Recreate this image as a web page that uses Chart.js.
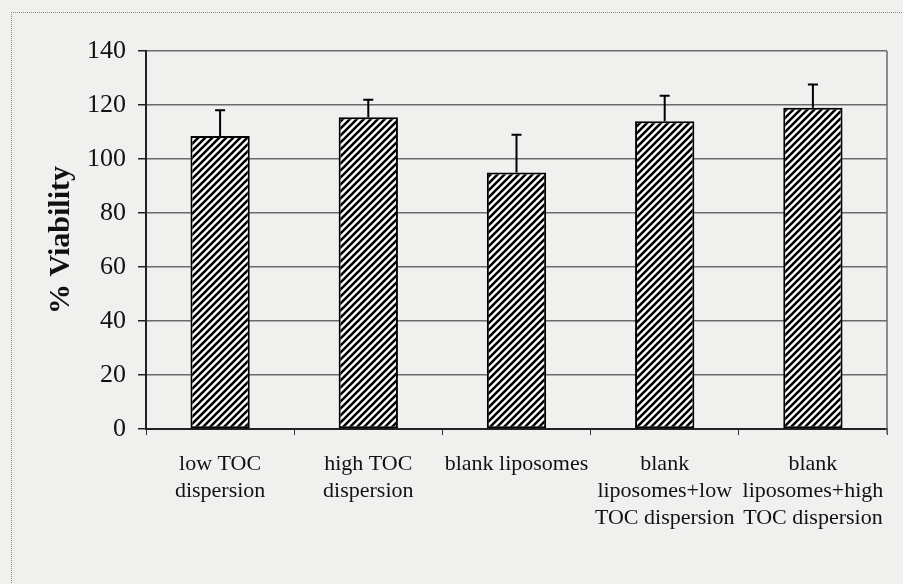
<!DOCTYPE html>
<html>
<head>
<meta charset="utf-8">
<script src="https://cdn.jsdelivr.net/npm/chart.js@4.4.0/dist/chart.umd.min.js"></script>
<style>
  html, body { margin: 0; padding: 0; background: #f0f0ef; }
  #wrap { position: relative; width: 903px; height: 584px; overflow: hidden; }
  #frame { position: absolute; left: 11px; top: 12px; width: 920px; height: 600px;
           border-top: 1px dotted #8a8a8a; border-left: 1px dotted #8a8a8a; }
  canvas { position: absolute; left: 0; top: 0; }
</style>
</head>
<body>
<div id="wrap">
  <div id="frame"></div>
  <canvas id="chart" width="903" height="584"></canvas>
</div>
<script>
const categories = [
    ['low TOC', 'dispersion'],
    ['high TOC', 'dispersion'],
    'blank liposomes',
    ['blank', 'liposomes+low', 'TOC dispersion'],
    ['blank', 'liposomes+high', 'TOC dispersion']
];
const viability = [108.5, 115.5, 95, 114, 119];
const errorUp = [9.6, 6.4, 14, 9.4, 8.6];
const yTicks = [0, 20, 40, 60, 80, 100, 120, 140];

// diagonal hatch fill
function makeHatch() {
    const c = document.createElement('canvas');
    c.width = 7;
    c.height = 7;
    const g = c.getContext('2d');
    g.fillStyle = '#ffffff';
    g.fillRect(0, 0, 7, 7);
    g.strokeStyle = '#000000';
    g.lineWidth = 2.6;
    g.beginPath();
    g.moveTo(-1, 8); g.lineTo(8, -1);
    g.moveTo(-2, 2); g.lineTo(2, -2);
    g.moveTo(5, 9); g.lineTo(9, 5);
    g.stroke();
    return g.createPattern(c, 'repeat');
}

const errorBars = {
    id: 'errorBars',
    afterDatasetsDraw(chart) {
        const ctx = chart.ctx;
        const yScale = chart.scales.y;
        const meta = chart.getDatasetMeta(0);
        ctx.save();
        ctx.strokeStyle = '#000';
        ctx.lineWidth = 2;
        meta.data.forEach((bar, i) => {
            const top = yScale.getPixelForValue(viability[i] + errorUp[i]);
            ctx.beginPath();
            ctx.moveTo(bar.x, bar.y);
            ctx.lineTo(bar.x, top);
            ctx.moveTo(bar.x - 5, top);
            ctx.lineTo(bar.x + 5, top);
            ctx.stroke();
        });
        ctx.restore();
    }
};

const plotFrame = {
    id: 'plotFrame',
    beforeDatasetsDraw(chart) {
        const a = chart.chartArea;
        const ctx = chart.ctx;
        ctx.save();
        ctx.strokeStyle = '#6a6a6a';
        ctx.lineWidth = 1.5;
        ctx.beginPath();
        ctx.moveTo(a.right, a.top);
        ctx.lineTo(a.right, a.bottom + 5);
        ctx.stroke();
        ctx.restore();
    }
};

new Chart(document.getElementById('chart').getContext('2d'), {
    type: 'bar',
    data: {
        labels: categories,
        datasets: [{
            data: viability,
            backgroundColor: makeHatch(),
            borderColor: '#000',
            borderWidth: 2,
            borderSkipped: false,
            categoryPercentage: 1,
            barPercentage: 0.4
        }]
    },
    options: {
        responsive: false,
        animation: false,
        layout: { padding: { left: 30, right: 16, top: 51, bottom: 0 } },
        plugins: {
            legend: { display: false },
            tooltip: { enabled: false }
        },
        scales: {
            x: {
                grid: {
                    drawOnChartArea: false,
                    drawTicks: true,
                    tickLength: 6,
                    tickColor: '#333'
                },
                border: { color: '#222', width: 2 },
                ticks: {
                    color: '#111',
                    padding: 16,
                    maxRotation: 0,
                    autoSkip: false,
                    font: { family: 'Liberation Serif', size: 22, lineHeight: 1.22 }
                },
                afterFit(scale) { scale.height = 584 - 429; }
            },
            y: {
                min: 0,
                max: 140,
                afterBuildTicks(scale) { scale.ticks = yTicks.map(v => ({ value: v })); },
                grid: {
                    color: '#6a6a6a',
                    lineWidth: 1.5,
                    tickLength: 8,
                    tickColor: '#222'
                },
                border: { color: '#222', width: 2 },
                ticks: {
                    color: '#111',
                    padding: 12,
                    font: { family: 'Liberation Serif', size: 26 }
                },
                title: {
                    display: true,
                    text: '% Viability',
                    color: '#111',
                    padding: { top: 13, bottom: 0 },
                    font: { family: 'Liberation Serif', size: 30, weight: 'bold' }
                },
                afterFit(scale) { scale.width = 146 - 30; }
            }
        }
    },
    plugins: [errorBars, plotFrame]
});
</script>
</body>
</html>
